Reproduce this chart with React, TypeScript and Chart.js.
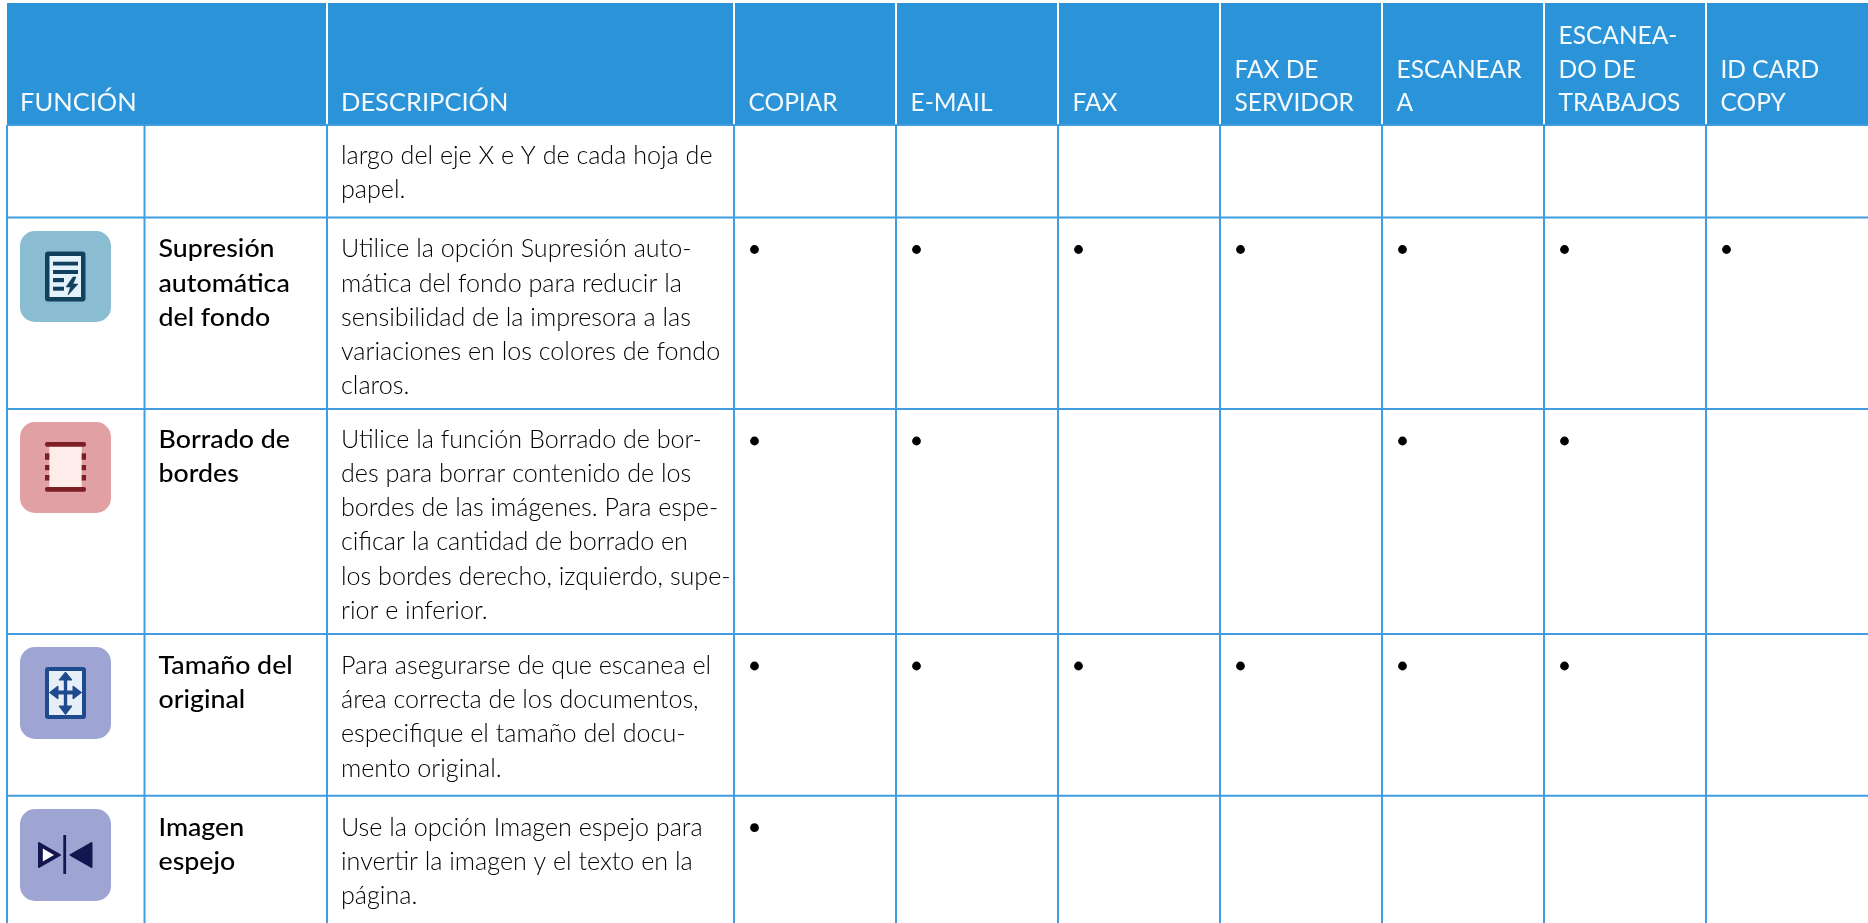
import React, { useEffect, useRef } from "react";
import { Chart, registerables, CategoryScale } from "chart.js";

Chart.register(...registerables);

const headerLines: string[][] = [
  ["COPIAR"],
  ["E-MAIL"],
  ["FAX"],
  ["FAX DE", "SERVIDOR"],
  ["ESCANEAR", "A"],
  ["ESCANEA-", "DO DE", "TRABAJOS"],
  ["ID CARD", "COPY"],
];
const columns = headerLines.map((l) => l.join(" "));
const rows = ["(continuación)", "Supresión automática del fondo", "Borrado de bordes", "Tamaño del original", "Imagen espejo"];
const featureLines: string[][] = [
  [],
  ["Supresión", "automática", "del fondo"],
  ["Borrado de", "bordes"],
  ["Tamaño del", "original"],
  ["Imagen", "espejo"],
];
const descriptionLines: string[][] = [
  ["largo del eje X e Y de cada hoja de", "papel."],
  [
    "Utilice la opción Supresión auto-",
    "mática del fondo para reducir la",
    "sensibilidad de la impresora a las",
    "variaciones en los colores de fondo",
    "claros.",
  ],
  [
    "Utilice la función Borrado de bor-",
    "des para borrar contenido de los",
    "bordes de las imágenes. Para espe-",
    "cificar la cantidad de borrado en",
    "los bordes derecho, izquierdo, supe-",
    "rior e inferior.",
  ],
  [
    "Para asegurarse de que escanea el",
    "área correcta de los documentos,",
    "especifique el tamaño del docu-",
    "mento original.",
  ],
  ["Use la opción Imagen espejo para", "invertir la imagen y el texto en la", "página."],
];
const supresionMarks = ["COPIAR", "E-MAIL", "FAX", "FAX DE SERVIDOR", "ESCANEAR A", "ESCANEA- DO DE TRABAJOS", "ID CARD COPY"];
const borradoMarks = ["COPIAR", "E-MAIL", "ESCANEAR A", "ESCANEA- DO DE TRABAJOS"];
const tamanoMarks = ["COPIAR", "E-MAIL", "FAX", "FAX DE SERVIDOR", "ESCANEAR A", "ESCANEA- DO DE TRABAJOS"];
const imagenMarks = ["COPIAR"];

const W = 1868;
const H = 923;
const HEADER_TOP = 3;
const HEADER_BOTTOM = 125;
const ROW_TOPS = [125, 217.5, 409, 634, 795.7];
const COLUMN_LINES = [7, 144.5, 327, 734];
const CELL_WIDTH = 162;
const CELL_INSET = 20.5;
const DOT_DROP = 32;
const BLUE = "#2b93d7";
const LINE = "#3f9de0";
const FONT = "Lato, sans-serif";

class CellScale extends CategoryScale {
  static id = "cell";
  static defaults = CategoryScale.defaults;
  getPixelForValue(value: any) {
    const i = typeof value === "number" ? value : (this as any).parse(value);
    return (this as any).axis === "x"
      ? (this as any).left + i * CELL_WIDTH + CELL_INSET
      : ROW_TOPS[i] + DOT_DROP;
  }
}
Chart.register(CellScale as any);

function rr(c: CanvasRenderingContext2D, x: number, y: number, w: number, h: number, r: number, fill: string) {
  c.beginPath();
  c.roundRect(x, y, w, h, r);
  c.fillStyle = fill;
  c.fill();
}
function poly(c: CanvasRenderingContext2D, pts: number[][], fill: string, round = 0) {
  c.beginPath();
  pts.forEach(([x, y], i) => (i ? c.lineTo(x, y) : c.moveTo(x, y)));
  c.closePath();
  c.fillStyle = fill;
  c.fill();
  if (round) {
    c.strokeStyle = fill;
    c.lineWidth = round;
    c.lineJoin = "round";
    c.stroke();
  }
}

function drawIcons(c: CanvasRenderingContext2D) {
  // Supresión
  rr(c, 20, 231, 91, 91, 15, "#8abcd2");
  rr(c, 45, 251.5, 40.5, 50, 3, "#12415f");
  c.fillStyle = "#e4f2fb";
  c.fillRect(49.5, 256, 31.5, 41);
  c.fillStyle = "#12415f";
  c.fillRect(53, 261.7, 25, 3.8);
  c.fillRect(53, 270, 25, 4);
  c.fillRect(53, 278, 11, 4.2);
  c.fillRect(53, 286.7, 11, 4);
  poly(c, [[73, 277], [66, 287], [70.5, 287], [68, 295], [78, 284], [73, 284], [76, 277]], "#12415f", 0.6);

  // Borrado
  rr(c, 20, 422, 91, 91, 15, "#e0a0a4");
  c.fillStyle = "#fdecea";
  c.fillRect(49.3, 445, 32.4, 43);
  c.fillStyle = "#7d1d26";
  c.beginPath();
  c.roundRect(45, 442, 41, 4.8, 2);
  c.roundRect(45, 487, 41, 4.8, 2);
  c.fill();
  for (const [y, h] of [[453.3, 6.5], [465, 5.2], [475, 5.5]]) {
    c.fillRect(45, y, 4.3, h);
    c.fillRect(81.7, y, 4.3, h);
  }

  // Tamaño
  rr(c, 20, 647, 91, 92, 15, "#9ea5d2");
  rr(c, 45, 667, 41, 52, 3, "#1f4a8e");
  c.fillStyle = "#e6eef8";
  c.fillRect(49, 671, 33, 44);
  const cx = 65.5;
  const cy = 692.5;
  c.fillStyle = "#1f4a8e";
  c.fillRect(cx - 1.7, 674, 3.4, 38);
  c.fillRect(52, cy - 2, 27, 4);
  poly(c, [[cx, 672], [cx + 6.5, 680], [cx - 6.5, 680]], "#1f4a8e", 1);
  poly(c, [[cx, 714.5], [cx + 6.5, 706], [cx - 6.5, 706]], "#1f4a8e", 1);
  poly(c, [[49.5, cy], [58, cy - 6.5], [58, cy + 6.5]], "#1f4a8e", 1);
  poly(c, [[81.5, cy], [73, cy - 6.5], [73, cy + 6.5]], "#1f4a8e", 1);

  // Imagen espejo
  rr(c, 20, 809, 91, 92, 15, "#9ea5d2");
  c.fillStyle = "#14174f";
  c.fillRect(63.3, 835, 2.8, 39);
  poly(c, [[39, 843], [60, 855], [39, 867]], "#14174f", 2);
  poly(c, [[42.8, 848.5], [54, 855], [42.8, 861.5]], "#ffffff");
  poly(c, [[91.5, 843], [70.5, 855], [91.5, 867]], "#14174f", 2);
}

const tablePlugin = {
  id: "table",
  beforeDatasetsDraw(chart: any) {
    const c: CanvasRenderingContext2D = chart.ctx;
    const xScale = chart.scales.x;
    const allX = [...COLUMN_LINES, ...columns.map((_, i) => xScale.left + i * CELL_WIDTH).slice(1)];
    c.save();
    c.fillStyle = "#ffffff";
    c.fillRect(0, 0, W, H);

    // header band and white separators
    c.fillStyle = BLUE;
    c.fillRect(COLUMN_LINES[0], HEADER_TOP, W - COLUMN_LINES[0], HEADER_BOTTOM - HEADER_TOP);
    c.fillStyle = "#ffffff";
    allX.slice(2).forEach((x) => c.fillRect(x - 1, HEADER_TOP, 2, HEADER_BOTTOM - HEADER_TOP));

    // grid
    c.strokeStyle = LINE;
    c.lineWidth = 2;
    c.beginPath();
    allX.forEach((x) => {
      c.moveTo(x, HEADER_BOTTOM);
      c.lineTo(x, H);
    });
    ROW_TOPS.forEach((y) => {
      c.moveTo(COLUMN_LINES[0], y);
      c.lineTo(W, y);
    });
    c.stroke();

    drawIcons(c);

    // header text
    c.textBaseline = "alphabetic";
    c.textAlign = "left";
    c.fillStyle = "#f4fafe";
    const headerBaseline = 111;
    const headerStep = 33.5;
    const scaled = (text: string, x: number, y: number, sx: number) => {
      c.save();
      c.translate(x, y);
      c.scale(sx, 1);
      c.fillText(text, 0, 0);
      c.restore();
    };
    c.font = `400 25px ${FONT}`;
    scaled("FUNCIÓN", 20, headerBaseline, 1.02);
    scaled("DESCRIPCIÓN", 341, headerBaseline, 1.02);
    headerLines.forEach((lines, i) => {
      lines.forEach((t, j) => {
        scaled(t, xScale.left + i * CELL_WIDTH + 14.5, headerBaseline - (lines.length - 1 - j) * headerStep, 0.98);
      });
    });

    // body text
    const baselines = [164, 257.3, 447.7, 674, 836];
    const step = 34.2;
    c.fillStyle = "#000000";
    c.font = `300 24.5px ${FONT}`;
    descriptionLines.forEach((lines, r) =>
      lines.forEach((t, j) => scaled(t, 341, baselines[r] + j * step, 1.025)),
    );
    c.fillStyle = "#000000";
    c.font = `500 25px ${FONT}`;
    featureLines.forEach((lines, r) =>
      lines.forEach((t, j) => scaled(t, 158.5, baselines[r] + j * step, 1.07)),
    );
    c.restore();
  },
};

export default function App() {
  const ref = useRef<HTMLCanvasElement>(null);
  useEffect(() => {
    const marks = [
      { row: rows[1], cols: supresionMarks },
      { row: rows[2], cols: borradoMarks },
      { row: rows[3], cols: tamanoMarks },
      { row: rows[4], cols: imagenMarks },
    ];
    const chart = new Chart(ref.current!, {
      type: "scatter",
      data: {
        xLabels: columns,
        yLabels: rows,
        datasets: [
          {
            label: "Disponible",
            data: marks.flatMap((m) => m.cols.map((col) => ({ x: col, y: m.row }))) as any,
            pointRadius: 4.4,
            pointBackgroundColor: "#000000",
            pointBorderWidth: 0,
          },
        ],
      } as any,
      options: {
        animation: false,
        responsive: false,
        devicePixelRatio: 1,
        layout: { padding: { left: COLUMN_LINES[3], top: HEADER_BOTTOM, right: 0, bottom: 0 } },
        plugins: { legend: { display: false }, tooltip: { enabled: false }, title: { display: false } },
        scales: {
          x: { type: "cell", display: false, labels: columns } as any,
          y: { type: "cell", display: false, labels: rows } as any,
        },
      },
      plugins: [tablePlugin],
    });
    return () => chart.destroy();
  }, []);
  return (
    <div style={{ position: "absolute", left: 0, top: 0, width: W, height: H, background: "#fff" }}>
      <canvas ref={ref} width={W} height={H} style={{ display: "block" }} />
    </div>
  );
}
